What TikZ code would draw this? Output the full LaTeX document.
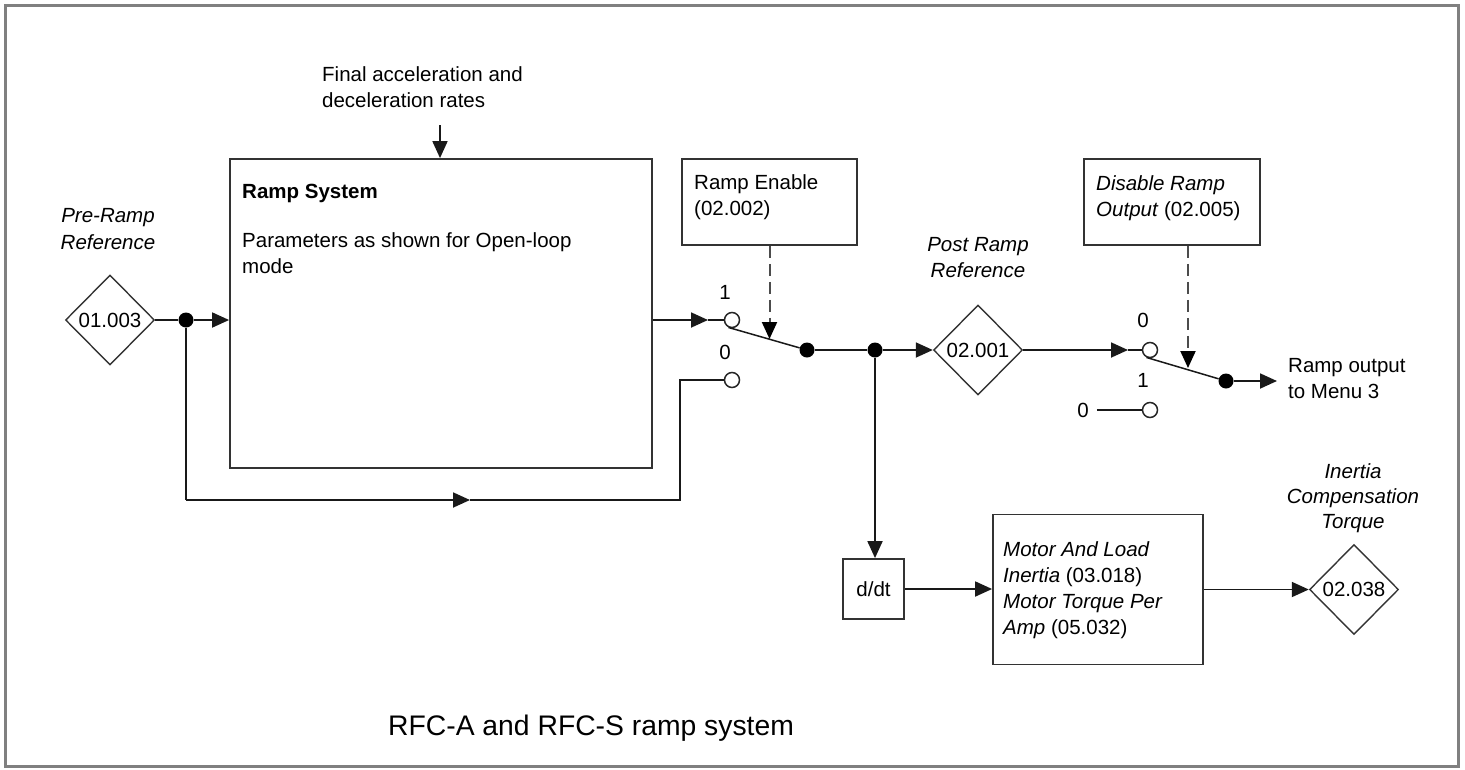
\documentclass[tikz,border=0pt]{standalone}
\usepackage{fontspec}
\setmainfont{Liberation Sans}
\usetikzlibrary{arrows.meta,shapes.geometric,calc}
\begin{document}
\begin{tikzpicture}[x=1pt,y=-1pt,
  txt/.style={inner sep=0pt, font=\fontsize{20.5}{26}\selectfont},
  box/.style={draw=black!80, line width=1.8pt, rectangle, inner sep=0pt},
  dia/.style={draw=black!80, line width=1.4pt, diamond, aspect=1, minimum width=89pt, minimum height=90pt, inner sep=0pt, font=\fontsize{20.5}{26}\selectfont},
  dot/.style={circle, fill=black, inner sep=0pt, minimum size=15pt},
  opn/.style={circle, draw=black!85, line width=1.5pt, fill=white, inner sep=0pt, minimum size=15pt},
  wire/.style={line width=1.8pt, draw=black!90},
  arr/.style={wire, -{Triangle[length=17pt,width=15pt]}},
  dsh/.style={line width=2pt, draw=black!70, dash pattern=on 12pt off 6pt, -{Triangle[length=17pt,width=15pt,fill=black,color=black]}}
]
\useasboundingbox (0,0) rectangle (1465,769);
\fill[white] (0,0) rectangle (1465,769);
\draw[draw=black!50, line width=3pt] (5.5,5.5) rectangle (1458,766);

% boxes
\node[box, minimum width=422pt, minimum height=309pt] (ramp) at (441,313.5) {};
\node[box, minimum width=175pt, minimum height=86pt] (en) at (769.5,202) {};
\node[box, minimum width=176pt, minimum height=86pt] (dis) at (1172,202) {};
\node[box, minimum width=61pt, minimum height=60pt, txt] (dd) at (873.5,589) {d/dt};
\node[box, minimum width=210pt, minimum height=150pt] (mo) at (1098,589.5) {};

% diamonds
\node[dia] (d1) at (110,320) {01.003};
\node[dia] (d2) at (978,350) {02.001};
\node[dia] (d3) at (1354,589.5) {02.038};

% texts
\node[txt, anchor=west, align=left] (tfa) at (322,87.5) {Final acceleration and\\deceleration rates};
\node[txt, align=center, font=\fontsize{20.5}{27}\selectfont\itshape] (tpre) at (108,229.5) {Pre-Ramp\\Reference};
\node[txt, align=center, font=\fontsize{20.5}{26}\selectfont\itshape] (tpost) at (978,258) {Post Ramp\\Reference};
\node[txt, align=center, font=\fontsize{20.5}{25}\selectfont\itshape] (tin) at (1353,498) {Inertia\\Compensation\\Torque};
\node[txt, anchor=west, align=left] (tout) at (1288,378.5) {Ramp output\\to Menu 3};
\node[txt, anchor=west, font=\fontsize{20.5}{26}\selectfont\bfseries] (trs) at (242,193) {Ramp System};
\node[txt, anchor=west, align=left] (tpar) at (242,253.5) {Parameters as shown for Open-loop\\mode};
\node[txt, anchor=west, align=left] (ten) at (694,197.5) {Ramp Enable\\(02.002)};
\node[txt, anchor=west, align=left] (tdis) at (1096,198) {\textit{Disable Ramp}\\\textit{Output} (02.005)};
\node[txt, anchor=west, align=left] (tmo) at (1003,589.75) {\textit{Motor And Load}\\\textit{Inertia} (03.018)\\\textit{Motor Torque Per}\\\textit{Amp} (05.032)};
\node[inner sep=0pt, anchor=west, font=\fontsize{28.3}{32}\selectfont] (title) at (388,728) {RFC-A and RFC-S ramp system};

% switch labels
\node[txt] (l1a) at (725,292) {1};
\node[txt] (l0a) at (725,352) {0};
\node[txt] (l0b) at (1143,320) {0};
\node[txt] (l1b) at (1143,380) {1};
\node[txt, inner sep=2pt] (z0) at (1083,410) {0};

% coordinates
\coordinate (a1) at (708,320);
\coordinate (bb) at (680,500);
\coordinate (m1) at (470,500);
\coordinate (a3) at (1128,350);
\coordinate (out) at (1277,381);
\coordinate (t1) at (770,339);
\coordinate (t2) at (1188,368);
\coordinate (fa) at (440,125);

% wires
\node[dot] (j1) at (186,320) {};
\draw[wire] (d1.east) -- (j1);
\draw[arr] (j1) -- (ramp.west |- j1);
\draw[arr] (ramp.east |- a1) -- (a1);
\node[opn] (c1) at (732,320) {};
\node[opn] (c0) at (732,380) {};
\draw[wire] (a1) -- (c1.west);
\draw[wire] (j1) -- (j1 |- bb);
\draw[arr] (j1 |- bb) -- (m1);
\draw[wire] (m1) -- (bb) -- (bb |- c0) -- (c0.west);
\draw[arr] (fa) -- (ramp.north -| fa);

\node[dot] (s1) at (807,350) {};
\node[dot] (j2) at (875,350) {};
\draw[wire, line width=1.5pt] (c1.-115) -- (s1);
\draw[dsh] (en.south) -- (en.south |- t1);
\draw[wire] (s1) -- (j2);
\draw[arr] (j2) -- (d2.west);

\node[opn] (c3) at (1150,350) {};
\node[opn] (c4) at (1150,410) {};
\node[dot] (s2) at (1226,381) {};
\draw[arr] (d2.east) -- (a3);
\draw[wire] (a3) -- (c3.west);
\draw[wire, line width=1.5pt] (c3.-115) -- (s2);
\draw[dsh] (dis.south -| t2) -- (t2);
\draw[arr] (s2) -- (out);
\draw[wire] ([xshift=6pt]z0.east) -- (c4.west);

\draw[arr] (j2) -- (j2 |- dd.north);
\draw[arr] (dd.east) -- (mo.west |- dd.east);
\draw[arr] (mo.east) -- (d3.west);
\end{tikzpicture}
\end{document}
